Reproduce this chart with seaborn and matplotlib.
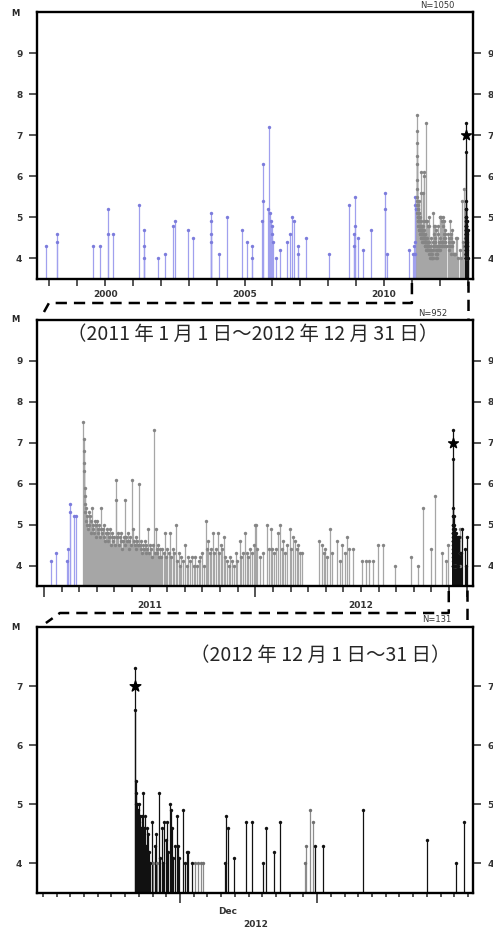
import numpy as np
import matplotlib
matplotlib.use("Agg")
import matplotlib.pyplot as plt
import seaborn as sns
from matplotlib.lines import Line2D
from matplotlib.transforms import IdentityTransform, blended_transform_factory

# ---- data (magnitude-time diagram) ----
# background seismicity 1997-2010 (decimal year, M)
pre_years = [1997.89, 1998.27, 1998.28, 1999.56, 1999.82, 2000.10, 2000.12, 2000.30,
             2001.22, 2001.38, 2001.39, 2001.40, 2001.89, 2002.15, 2002.45, 2002.50,
             2002.96, 2003.17, 2003.78, 2003.79, 2003.80, 2003.81, 2004.09, 2004.36,
             2004.90, 2005.08, 2005.25, 2005.26, 2005.64, 2005.65, 2005.66, 2005.85,
             2005.86, 2005.92, 2005.95, 2005.98, 2006.00, 2006.02, 2006.13, 2006.27,
             2006.53, 2006.63, 2006.71, 2006.77, 2006.90, 2006.92, 2007.20, 2008.04,
             2008.75, 2008.93, 2008.94, 2008.95, 2008.96, 2009.08, 2009.26, 2009.53,
             2010.03, 2010.04, 2010.10, 2010.91]
pre_mags = [4.3, 4.4, 4.6, 4.3, 4.3, 4.6, 5.2, 4.6,
            5.3, 4.0, 4.3, 4.7, 4.0, 4.1, 4.8, 4.9,
            4.7, 4.5, 4.6, 4.4, 4.9, 5.1, 4.1, 5.0,
            4.7, 4.4, 4.0, 4.3, 4.9, 5.4, 6.3, 5.2,
            7.2, 5.1, 4.9, 4.8, 4.6, 4.4, 4.0, 4.2,
            4.4, 4.6, 5.0, 4.9, 4.1, 4.3, 4.5, 4.1,
            5.3, 4.3, 4.6, 4.8, 5.5, 4.5, 4.2, 4.7,
            5.2, 5.6, 4.1, 4.2]

# 2011-2012 events, days counted from 2011-01-01
early_days = [12.0, 21.0, 40.5, 41.0, 45.0, 45.5, 52.5, 55.9]
early_mags = [4.1, 4.3, 4.1, 4.4, 5.3, 5.5, 5.2, 5.2]

seq_days = [67.5, 68.3, 69.4, 69.6, 69.8, 70.0, 70.3, 70.6, 71.2, 72.1, 73.0, 74.0,
            75.1, 76.2, 77.3, 78.4, 79.5, 80.7, 81.9, 83.0, 84.2, 85.4, 86.6, 87.8,
            89.0, 90.2, 91.5, 92.8, 94.0, 95.3, 96.6, 97.9, 99.2, 100.5, 101.8, 103.1,
            104.4, 105.7, 107.0, 108.4, 109.8, 111.2, 112.6, 114.0, 115.4, 116.8, 118.2,
            119.6, 121.0, 122.4, 124.0, 125.2, 126.6, 128.0, 129.4, 130.8, 132.2, 133.6,
            135.0, 136.4, 137.8, 139.2, 140.6, 142.0, 143.4, 144.8, 146.2, 147.6, 149.0,
            150.4, 152.6, 154.0, 155.4, 156.8, 158.2, 159.6, 161.0, 162.4, 164.2, 165.6,
            167.0, 168.4, 169.8, 171.2, 172.6, 174.0, 175.4, 176.8, 178.2, 180.0, 181.5,
            183.0, 184.5, 186.0, 187.5, 190.0, 191.5, 193.0, 194.5, 196.0, 197.5, 199.0,
            200.5, 202.5, 204.6, 206.6, 208.8, 211.0, 213.0, 215.2, 217.8, 220.0, 222.5,
            225.0, 227.5, 230.0, 232.5, 235.0, 237.5, 240.0, 243.7, 246.5, 249.0, 252.4,
            255.5, 258.5, 261.0, 264.0, 267.0, 270.0, 273.0, 276.0, 279.0, 281.5, 284.0,
            286.5, 289.0, 292.0, 294.5, 297.0, 300.5, 303.0, 305.5, 308.0, 310.5, 313.0,
            316.0, 319.0, 322.0, 325.0, 328.0, 331.0, 334.0, 338.0, 341.0, 344.0, 347.5,
            350.0, 353.0, 356.0, 359.0, 362.0, 364.5,
            366.2, 368.5, 373.1, 378.3, 384.7, 387.9, 391.7, 394.5, 397.4, 400.9, 404.8,
            407.8, 410.7, 413.5, 416.4, 419.9, 425.1, 427.4, 429.8, 433.8, 436.7, 439.5,
            442.4, 446.4, 475.8, 480.0, 483.1, 485.7, 489.2, 494.4, 497.8, 507.0, 510.8,
            514.4, 519.5, 524.3, 527.3, 534.7, 550.3, 556.7, 562.0, 569.4, 578.0, 586.7,
            607.0, 634.7, 647.3, 655.0, 669.3, 676.8, 687.9, 695.0, 698.0]
seq_mags = [7.5, 6.3, 7.1, 6.8, 6.5, 5.9, 5.7, 5.5, 5.3, 5.1, 5.4, 5.0,
            5.2, 4.9, 5.3, 5.0, 5.2, 4.8, 5.1, 5.4, 4.9, 5.0, 4.8, 5.1,
            4.7, 5.0, 5.1, 4.9, 4.8, 5.0, 4.7, 4.9, 5.4, 4.8, 4.9, 4.7,
            5.0, 4.6, 4.8, 4.9, 4.6, 4.8, 4.7, 4.9, 4.5, 4.7, 4.8,
            4.6, 4.7, 4.5, 6.1, 5.6, 4.7, 4.8, 4.5, 4.7, 4.6, 4.8,
            4.4, 4.6, 4.7, 5.6, 4.5, 4.7, 4.6, 4.8, 4.4, 4.6, 4.7,
            4.5, 6.1, 4.9, 4.6, 4.5, 4.7, 4.4, 4.6, 4.5, 6.0, 4.5,
            4.4, 4.6, 4.3, 4.5, 4.4, 4.6, 4.3, 4.5, 4.4, 4.9, 4.3,
            4.5, 4.4, 4.2, 4.5, 7.3, 4.3, 4.9, 4.4, 4.3, 4.5, 4.2,
            4.4, 4.2, 4.4, 4.3, 4.8, 4.2, 4.4, 4.3, 4.8, 4.2, 4.4,
            4.3, 5.0, 4.1, 4.3, 4.0, 4.2, 4.1, 4.5, 4.0, 4.2, 4.1,
            4.2, 4.0, 4.2, 4.0, 4.1, 4.2, 4.3, 4.0, 5.1, 4.4, 4.6,
            4.3, 4.4, 4.8, 4.3, 4.4, 4.8, 4.3, 4.5, 4.4, 4.7, 4.2,
            4.1, 4.0, 4.2, 4.1, 4.0, 4.3, 4.1, 4.6, 4.2, 4.3, 4.8,
            4.3, 4.2, 4.4, 4.3, 4.5, 5.0,
            5.0, 4.4, 4.2, 4.3, 5.0, 4.4, 4.9, 4.4, 4.3, 4.4, 4.8,
            5.0, 4.4, 4.6, 4.3, 4.5, 4.9, 4.4, 4.7, 4.6, 4.4, 4.5,
            4.3, 4.3, 4.6, 4.5, 4.3, 4.4, 4.2, 4.9, 4.3, 4.6, 4.1,
            4.5, 4.3, 4.7, 4.4, 4.4, 4.1, 4.1, 4.1, 4.1, 4.5, 4.5,
            4.0, 4.2, 4.0, 5.4, 4.4, 5.7, 4.3, 4.1, 4.5]

# December 2012, days counted from 2012-12-01 00:00
dec_days = [6.72, 6.74, 6.76, 6.78, 6.80, 6.83, 6.86, 6.89, 6.92, 6.95, 6.98, 7.01,
            7.04, 7.07, 7.10, 7.13, 7.16, 7.20, 7.24, 7.28, 7.32, 7.36, 7.40, 7.45,
            7.50, 7.56, 7.62, 7.68, 7.75, 7.82, 7.94, 8.15, 8.25, 8.45, 8.55, 8.67,
            8.76, 8.85, 8.95, 9.03, 9.12, 9.27, 9.33, 9.39, 9.50, 9.60, 9.76, 9.88,
            9.95, 10.24, 10.35, 10.49, 10.61, 10.85, 13.30, 13.36, 13.52, 13.96, 14.79,
            15.27, 16.08, 16.25, 16.86, 17.29, 19.85, 20.41, 23.33, 28.04, 30.13, 30.74]
dec_mags = [7.3, 6.6, 5.4, 5.0, 5.2, 4.8, 5.0, 4.6, 4.9, 4.4, 4.7, 4.2,
            5.0, 4.5, 4.8, 4.3, 4.6, 4.0, 4.8, 4.4, 5.2, 4.6, 4.1, 4.8,
            4.3, 4.6, 4.0, 4.5, 4.2, 4.0, 4.7, 4.3, 4.5, 5.2, 4.1, 4.6,
            4.0, 4.7, 4.4, 4.7, 4.2, 5.0, 4.9, 4.6, 4.1, 4.3, 4.8, 4.3,
            4.1, 4.9, 4.0, 4.2, 4.2, 4.0, 4.0, 4.8, 4.6, 4.1, 4.7,
            4.7, 4.0, 4.6, 4.2, 4.7, 4.3, 4.3, 4.9, 4.4, 4.0, 4.7]
dec_gray_days = [8.05, 8.35, 11.09, 11.30, 11.50, 11.68, 19.10, 19.17, 19.48, 19.72]
dec_gray_mags = [4.0, 4.0, 4.0, 4.0, 4.0, 4.0, 4.0, 4.3, 4.9, 4.7]

star_day, star_mag = 6.72, 7.0
counts = [1050, 952, 131]


def to_year(d):
    d = np.asarray(d, float)
    return np.where(d < 365, 2011 + d / 365.0, 2012 + (d - 365) / 366.0)


BLUE, BLUE_DOT = "#a0a0ee", "#7c7cdc"
GRAY, GRAY_DOT = "#a6a6a6", "#858585"
BLACK = "#111111"
BASE = 3.5

sns.set_theme(style="white")
plt.rcParams["font.family"] = ["DejaVu Sans"]

W, H = 493, 931
fig = plt.figure(figsize=(W / 100, H / 100), dpi=100)


def box(l, t, r, b):
    return [l / W, 1 - b / H, (r - l) / W, (b - t) / H]


ax1 = fig.add_axes(box(37, 12, 473, 279))
ax2 = fig.add_axes(box(37, 320, 473, 586))
ax3 = fig.add_axes(box(37, 627, 473, 893))


def stems(ax, x, m, color, dot):
    ax.vlines(x, BASE, m, colors=color, linewidth=0.9, zorder=2)
    sns.scatterplot(x=np.asarray(x), y=np.asarray(m), ax=ax, color=dot, s=6,
                    linewidth=0, marker="o", zorder=3, legend=False)


dec_in_days = 700 + np.asarray(dec_days)
dec_gray_in_days = 700 + np.asarray(dec_gray_days)
star_in_days = 700 + star_day

# panel 1: whole period
stems(ax1, pre_years, pre_mags, BLUE, BLUE_DOT)
stems(ax1, to_year(early_days), early_mags, BLUE, BLUE_DOT)
stems(ax1, to_year(seq_days), seq_mags, GRAY, GRAY_DOT)
stems(ax1, to_year(dec_gray_in_days), dec_gray_mags, GRAY, GRAY_DOT)
stems(ax1, to_year(dec_in_days), dec_mags, BLACK, BLACK)
ax1.scatter(to_year([star_in_days]), [star_mag], marker="*", s=55, color="black", zorder=5)

# panel 2: 2011-2012
stems(ax2, to_year(early_days), early_mags, BLUE, BLUE_DOT)
stems(ax2, to_year(seq_days), seq_mags, GRAY, GRAY_DOT)
stems(ax2, to_year(dec_gray_in_days), dec_gray_mags, GRAY, GRAY_DOT)
stems(ax2, to_year(dec_in_days), dec_mags, BLACK, BLACK)
ax2.scatter(to_year([star_in_days]), [star_mag], marker="*", s=55, color="black", zorder=5)

# panel 3: December 2012
stems(ax3, dec_gray_days, dec_gray_mags, "#8c8c8c", "#707070")
stems(ax3, dec_days, dec_mags, BLACK, BLACK)
ax3.scatter([star_day], [star_mag], marker="*", s=65, color="black", zorder=5)

ax1.set_xlim(1997.56, 2013.19)
ax2.set_xlim(2010.967, 2013.03)
ax3.set_xlim(-0.43, 31.37)
ax1.set_ylim(BASE, 10)
ax2.set_ylim(BASE, 10)
ax3.set_ylim(BASE, 8)
ax1.set_yticks([4, 5, 6, 7, 8, 9])
ax2.set_yticks([4, 5, 6, 7, 8, 9])
ax3.set_yticks([4, 5, 6, 7])

tick_font = dict(fontsize=6.5, fontweight="bold", color="#333333")
for ax in (ax1, ax2, ax3):
    for s in ax.spines.values():
        s.set_linewidth(1.7)
        s.set_color("black")
    ax.tick_params(axis="y", direction="out", length=6, width=1.1, left=True, right=True,
                   labelleft=True, labelright=True, pad=4.5, labelsize=6.5, labelcolor="#333333")
    ax.tick_params(axis="x", which="both", direction="out", bottom=True, top=False,
                   width=1.1, labelsize=6.5, labelcolor="#333333")
    for lab in ax.get_yticklabels():
        lab.set_fontweight("bold")
    ax.set_xlabel("")
    ax.set_ylabel("")

# panel 1 x ticks
ax1.set_xticks([2000, 2005, 2010])
ax1.set_xticklabels(["2000", "2005", "2010"])
ax1.set_xticks(list(range(1998, 2014)), minor=True)
ax1.tick_params(axis="x", which="major", length=5, pad=3)
ax1.tick_params(axis="x", which="minor", length=5)

# panel 2 x ticks
ax2.set_xticks([2011, 2012, 2013])
ax2.set_xticklabels([])
ax2.set_xticks([2011 + k / 12 for k in range(25)], minor=True)
ax2.tick_params(axis="x", which="major", length=8)
ax2.tick_params(axis="x", which="minor", length=4)
tr2 = blended_transform_factory(ax2.transData, ax2.transAxes)
for yr in (2011, 2012):
    ax2.text(yr + 0.5, -0.075, str(yr), transform=tr2, ha="center", va="center", **tick_font)

# panel 3 x ticks
ax3.set_xticks([10, 20])
ax3.set_xticklabels([])
ax3.set_xticks(list(range(0, 32)), minor=True)
ax3.tick_params(axis="x", which="major", length=7)
ax3.tick_params(axis="x", which="minor", length=3)
tr3 = blended_transform_factory(ax3.transData, ax3.transAxes)
ax3.text(13.5, -0.07, "Dec", transform=tr3, ha="center", va="center", **tick_font)
ax3.text(15.5, -0.12, "2012", transform=tr3, ha="center", va="center", **tick_font)

for ax in (ax1, ax2):
    for lab in ax.get_xticklabels():
        lab.set_fontweight("bold")

# "M" axis names and N counts
for ytop, n, xn, yn in ((13, counts[0], 437, 6), (320, counts[1], 433, 313), (628, counts[2], 437, 620)):
    fig.text(15 / W, 1 - ytop / H, "M", ha="center", va="center", fontsize=6, fontweight="bold")
    fig.text(xn / W, 1 - yn / H, f"N={n}", ha="center", va="center", fontsize=6, color="#333333")

# period captions
jp = ["Noto Sans CJK JP", "DejaVu Sans"]
ax2.text(0.495, 0.944, "（2011 年 1 月 1 日～2012 年 12 月 31 日）", transform=ax2.transAxes,
         ha="center", va="center", fontsize=14, family=jp, zorder=6)
ax3.text(0.65, 0.895, "（2012 年 12 月 1 日～31 日）", transform=ax3.transAxes,
         ha="center", va="center", fontsize=14, family=jp, zorder=6)

# dashed zoom connectors (display pixel coordinates)
fig.canvas.draw()


def px(ax, x, y):
    d = ax.transData.transform((x, y))
    return d[0], H - d[1]


dash = dict(color="black", linewidth=1.8, linestyle=(0, (4.5, 2.8)),
            transform=IdentityTransform(), zorder=10)


def path(pts):
    xs = [p[0] for p in pts]
    ys = [H - p[1] for p in pts]
    fig.add_artist(Line2D(xs, ys, **dash))


xa, _ = px(ax1, 2011.0, BASE)
xb, _ = px(ax1, 2013.0, BASE)
x2a, _ = px(ax2, 2011.0, BASE)
x2b, _ = px(ax2, 2012 + 335 / 366, BASE)
x2c, _ = px(ax2, 2013.0, BASE)
x3a, _ = px(ax3, 0.0, BASE)

path([(xa, 283), (xa, 303), (x2a + 5, 303), (x2a, 312)])
path([(xb, 281), (xb, 318)])
path([(x2b, 591), (x2b, 613), (x3a + 17, 613), (x3a + 3, 623)])
path([(x2c, 590), (x2c, 623)])

fig.savefig("out.png", dpi=100)
